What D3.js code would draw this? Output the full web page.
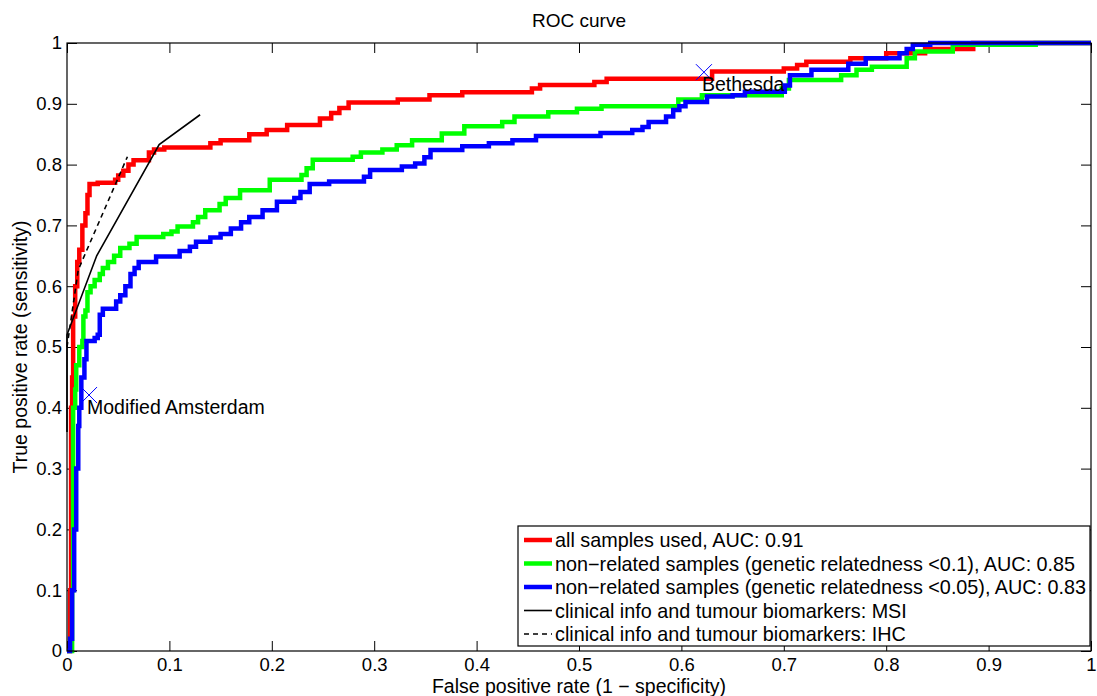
<!DOCTYPE html>
<html>
<head>
<meta charset="utf-8">
<script src="https://cdn.jsdelivr.net/npm/d3@7"></script>
<style>
  body { margin: 0; background: #fff; }
  svg { font-family: "Liberation Sans", Arial, Helvetica, sans-serif; }
  .tick text { font-size: 18.5px; fill: #000; }
  .tick line { stroke: #000; }
</style>
</head>
<body>
<svg id="roc" width="1097" height="696"></svg>
<script>
// [fpr, tpr] step points (value holds until the next fpr)
const allSamples = [
  [0.000, 0.000], [0.003, 0.100], [0.004, 0.400], [0.005, 0.450], [0.006, 0.550],
  [0.008, 0.600], [0.010, 0.640], [0.012, 0.660], [0.015, 0.700], [0.018, 0.720],
  [0.020, 0.750], [0.022, 0.768], [0.030, 0.770], [0.047, 0.775], [0.050, 0.782],
  [0.055, 0.790], [0.060, 0.800], [0.065, 0.807], [0.080, 0.820], [0.085, 0.825],
  [0.095, 0.828], [0.140, 0.835], [0.150, 0.840], [0.178, 0.850], [0.195, 0.857],
  [0.215, 0.865], [0.247, 0.876], [0.258, 0.885], [0.266, 0.893], [0.275, 0.902],
  [0.323, 0.907], [0.354, 0.914], [0.386, 0.919], [0.454, 0.925], [0.462, 0.931],
  [0.515, 0.936], [0.527, 0.941], [0.630, 0.953], [0.700, 0.958], [0.713, 0.964],
  [0.722, 0.969], [0.765, 0.975], [0.800, 0.983], [0.838, 0.990], [0.885, 1.000],
  [1.000, 1.000]
];

const nonRelated01 = [
  [0.000, 0.000], [0.005, 0.100], [0.006, 0.400], [0.008, 0.430], [0.009, 0.470],
  [0.012, 0.500], [0.015, 0.510], [0.016, 0.550], [0.018, 0.560], [0.020, 0.590],
  [0.023, 0.600], [0.027, 0.610], [0.032, 0.620], [0.035, 0.630], [0.040, 0.640],
  [0.046, 0.650], [0.052, 0.663], [0.061, 0.670], [0.068, 0.681], [0.094, 0.686],
  [0.102, 0.690], [0.108, 0.698], [0.123, 0.705], [0.128, 0.714], [0.135, 0.725],
  [0.149, 0.735], [0.155, 0.745], [0.169, 0.758], [0.198, 0.775], [0.229, 0.783],
  [0.234, 0.794], [0.240, 0.808], [0.279, 0.813], [0.287, 0.820], [0.308, 0.825],
  [0.322, 0.832], [0.337, 0.840], [0.366, 0.851], [0.388, 0.863], [0.425, 0.870],
  [0.437, 0.879], [0.470, 0.886], [0.498, 0.892], [0.522, 0.896], [0.597, 0.907],
  [0.620, 0.914], [0.698, 0.925], [0.705, 0.939], [0.756, 0.947], [0.771, 0.956],
  [0.786, 0.961], [0.820, 0.975], [0.828, 0.986], [0.865, 0.997], [0.946, 1.000],
  [1.000, 1.000]
];

const nonRelated005 = [
  [0.000, 0.000], [0.003, 0.020], [0.005, 0.100], [0.007, 0.200], [0.009, 0.300],
  [0.011, 0.370], [0.012, 0.400], [0.014, 0.450], [0.017, 0.480], [0.019, 0.510],
  [0.027, 0.515], [0.030, 0.520], [0.032, 0.553], [0.035, 0.563], [0.048, 0.575],
  [0.052, 0.585], [0.057, 0.600], [0.062, 0.620], [0.066, 0.630], [0.070, 0.640],
  [0.087, 0.649], [0.110, 0.658], [0.120, 0.665], [0.126, 0.673], [0.140, 0.680],
  [0.150, 0.686], [0.160, 0.695], [0.170, 0.705], [0.178, 0.714], [0.191, 0.725],
  [0.205, 0.739], [0.222, 0.745], [0.228, 0.755], [0.237, 0.768], [0.256, 0.772],
  [0.290, 0.780], [0.296, 0.791], [0.327, 0.797], [0.340, 0.802], [0.349, 0.812],
  [0.355, 0.824], [0.386, 0.830], [0.412, 0.835], [0.435, 0.840], [0.458, 0.847],
  [0.521, 0.852], [0.552, 0.857], [0.562, 0.862], [0.568, 0.870], [0.585, 0.879],
  [0.592, 0.890], [0.598, 0.896], [0.604, 0.903], [0.625, 0.912], [0.650, 0.914],
  [0.662, 0.920], [0.701, 0.930], [0.706, 0.947], [0.727, 0.956], [0.763, 0.966],
  [0.780, 0.975], [0.813, 0.983], [0.820, 0.990], [0.826, 0.997], [0.843, 1.000],
  [1.000, 1.000]
];

// clinical criteria curves (straight segments)
const clinicalMSI = [[0.000, 0.360], [0.000, 0.520], [0.029, 0.650], [0.090, 0.833], [0.130, 0.882]];
const clinicalIHC = [[0.000, 0.500], [0.011, 0.627], [0.059, 0.813]];

// single operating points
const pointNames = ['Modified Amsterdam', 'Bethesda'];
const pointFpr = [0.0215, 0.622];
const pointTpr = [0.421, 0.952];

const legendLabels = [
  'all samples used, AUC: 0.91',
  'non\u2212related samples (genetic relatedness <0.1), AUC: 0.85',
  'non\u2212related samples (genetic relatedness <0.05), AUC: 0.83',
  'clinical info and tumour biomarkers: MSI',
  'clinical info and tumour biomarkers: IHC'
];

const xTicks = [0, 0.1, 0.2, 0.3, 0.4, 0.5, 0.6, 0.7, 0.8, 0.9, 1];
const yTicks = [0, 0.1, 0.2, 0.3, 0.4, 0.5, 0.6, 0.7, 0.8, 0.9, 1];

function renderRoc() {
  const svg = d3.select('#roc');

  // 1- plot box
  const left = 67;
  const right = 1091;
  const top = 43;
  const bottom = 651;
  const fontSize = 19.5;

  const x = d3.scaleLinear().domain([0, 1]).range([left, right]);
  const y = d3.scaleLinear().domain([0, 1]).range([bottom, top]);

  // 2- axes, ticks pointing inward on all four sides
  const fmt = d => String(d);

  svg.append('g')
    .attr('transform', `translate(0,${bottom})`)
    .call(d3.axisBottom(x).tickValues(xTicks).tickFormat(fmt).tickSizeInner(-10).tickSizeOuter(0).tickPadding(7))
    .call(g => g.select('.domain').remove());

  svg.append('g')
    .attr('transform', `translate(0,${top})`)
    .call(d3.axisTop(x).tickValues(xTicks).tickFormat('').tickSizeInner(-10).tickSizeOuter(0))
    .call(g => g.select('.domain').remove());

  svg.append('g')
    .attr('transform', `translate(${left},0)`)
    .call(d3.axisLeft(y).tickValues(yTicks).tickFormat(fmt).tickSizeInner(-10).tickSizeOuter(0).tickPadding(5))
    .call(g => g.select('.domain').remove());

  svg.append('g')
    .attr('transform', `translate(${right},0)`)
    .call(d3.axisRight(y).tickValues(yTicks).tickFormat('').tickSizeInner(-10).tickSizeOuter(0))
    .call(g => g.select('.domain').remove());

  // 3- curves (legend order = drawing order)
  const stepLine = d3.line()
    .x(d => x(d[0]))
    .y(d => y(d[1]))
    .curve(d3.curveStepAfter);

  const straightLine = d3.line()
    .x(d => x(d[0]))
    .y(d => y(d[1]));

  const series = [
    { data: allSamples, color: '#ff0000', width: 4.5, dash: null, step: true },
    { data: nonRelated01, color: '#00ff00', width: 4.5, dash: null, step: true },
    { data: nonRelated005, color: '#0000ff', width: 4.5, dash: null, step: true },
    { data: clinicalMSI, color: '#000000', width: 1.6, dash: null, step: false },
    { data: clinicalIHC, color: '#000000', width: 1.6, dash: '5,4', step: false }
  ];

  series.forEach(s => {
    svg.append('path')
      .attr('fill', 'none')
      .attr('stroke', s.color)
      .attr('stroke-width', s.width)
      .attr('stroke-dasharray', s.dash)
      .attr('d', (s.step ? stepLine : straightLine)(s.data));
  });

  // 4- operating point markers with labels
  pointNames.forEach((name, i) => {
    const px = x(pointFpr[i]);
    const py = y(pointTpr[i]);
    svg.append('path')
      .attr('fill', 'none')
      .attr('stroke', '#0000ff')
      .attr('stroke-width', 1)
      .attr('d', `M${px - 8},${py - 8}L${px + 8},${py + 8}M${px - 8},${py + 8}L${px + 8},${py - 8}`);
    svg.append('text')
      .attr('x', px - 2)
      .attr('y', py + 19)
      .attr('font-size', fontSize)
      .text(name);
  });

  // 5- plot frame
  svg.append('rect')
    .attr('x', left)
    .attr('y', top)
    .attr('width', right - left)
    .attr('height', bottom - top)
    .attr('fill', 'none')
    .attr('stroke', '#000')
    .attr('stroke-width', 1.2);

  // 6- legend
  const legendX = 518;
  const legendY = 526;
  const rowH = 23.5;
  const legend = svg.append('g');

  legend.append('rect')
    .attr('x', legendX)
    .attr('y', legendY)
    .attr('width', right - 1 - legendX)
    .attr('height', 120)
    .attr('fill', '#fff')
    .attr('stroke', '#000')
    .attr('stroke-width', 1.2);

  legendLabels.forEach((label, i) => {
    const ry = legendY + 14 + i * rowH;
    legend.append('line')
      .attr('x1', legendX + 6)
      .attr('x2', legendX + 34)
      .attr('y1', ry)
      .attr('y2', ry)
      .attr('stroke', series[i].color)
      .attr('stroke-width', series[i].width)
      .attr('stroke-dasharray', series[i].dash);
    legend.append('text')
      .attr('x', legendX + 37)
      .attr('y', ry + 7)
      .attr('font-size', 19.8)
      .text(label);
  });

  // 7- titles
  svg.append('text')
    .attr('x', (left + right) / 2)
    .attr('y', 27)
    .attr('text-anchor', 'middle')
    .attr('font-size', 19)
    .text('ROC curve');

  svg.append('text')
    .attr('x', (left + right) / 2)
    .attr('y', 693)
    .attr('text-anchor', 'middle')
    .attr('font-size', fontSize)
    .text('False positive rate (1 \u2212 specificity)');

  svg.append('text')
    .attr('transform', `translate(27,${(top + bottom) / 2}) rotate(-90)`)
    .attr('text-anchor', 'middle')
    .attr('font-size', fontSize)
    .text('True positive rate (sensitivity)');
}

document.addEventListener('DOMContentLoaded', renderRoc);
</script>
</body>
</html>
